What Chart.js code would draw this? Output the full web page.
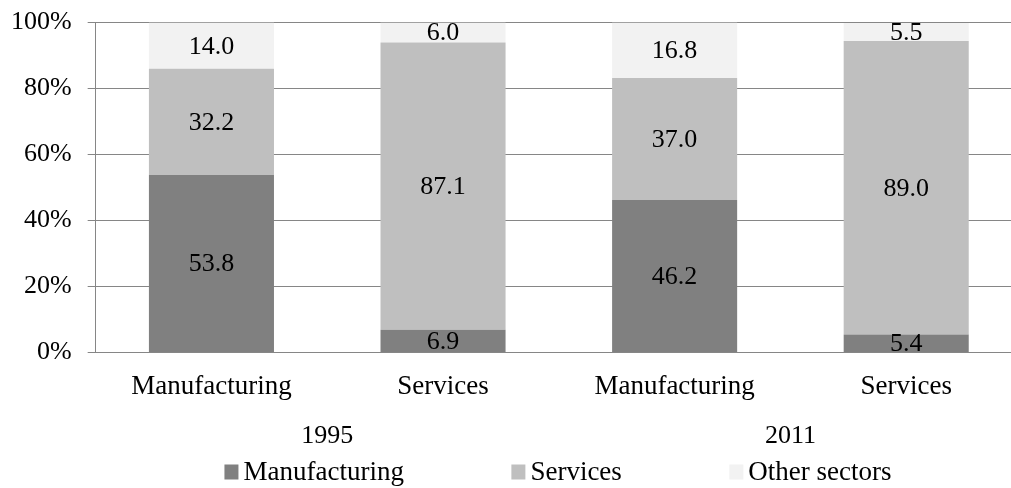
<!DOCTYPE html>
<html>
<head>
<meta charset="utf-8">
<script src="https://cdn.jsdelivr.net/npm/chart.js@4/dist/chart.umd.min.js"></script>
<style>
  html, body { margin: 0; padding: 0; overflow: hidden; background: #fff; }
  #wrap { width: 1022px; height: 497px; position: relative; margin-top: -9px; }
</style>
</head>
<body>
<div id="wrap"><canvas id="c"></canvas></div>
<script>
const categories = ['Manufacturing', 'Services', 'Manufacturing', 'Services'];
const years = ['1995', '2011'];
const manufacturing = [53.8, 6.9, 46.2, 5.4];
const services = [32.2, 87.1, 37.0, 89.0];
const otherSectors = [14.0, 6.0, 16.8, 5.5];
const yTicks = [0, 20, 40, 60, 80, 100];

const FONT = "'Liberation Serif', 'Times New Roman', serif";
const FS = 26;
const FX = 27;
const GRID = '#868686';

const valueLabels = {
  id: 'valueLabels',
  afterDatasetsDraw(chart) {
    const ctx = chart.ctx;
    ctx.save();
    ctx.font = FS + 'px ' + FONT;
    ctx.fillStyle = '#000';
    ctx.textAlign = 'center';
    ctx.textBaseline = 'middle';
    chart.data.datasets.forEach((ds, i) => {
      const meta = chart.getDatasetMeta(i);
      meta.data.forEach((bar, j) => {
        const yc = (bar.y + bar.base) / 2;
        ctx.fillText(ds.data[j].toFixed(1), bar.x, yc + 1);
      });
    });
    ctx.restore();
  }
};

const customLegend = {
  id: 'customLegend',
  afterDraw(chart) {
    const ctx = chart.ctx;
    ctx.save();
    ctx.font = FX + 'px ' + FONT;
    ctx.textBaseline = 'middle';
    ctx.textAlign = 'left';
    const bw = 14, bh = 15, textOff = 19, spacing = 107.5;
    const items = chart.data.datasets.map(ds => ({ text: ds.label, color: ds.backgroundColor }));
    const widths = items.map(it => textOff + ctx.measureText(it.text).width);
    const total = widths.reduce((a, b) => a + b, 0) + spacing * (items.length - 1);
    let x = 558 - total / 2;
    const y = 481;
    items.forEach((it, k) => {
      ctx.fillStyle = it.color;
      ctx.fillRect(x, y - bh / 2, bw, bh);
      ctx.fillStyle = '#000';
      ctx.fillText(it.text, x + textOff, y + 1);
      x += widths[k] + spacing;
    });
    ctx.restore();
  }
};

new Chart(document.getElementById('c'), {
  type: 'bar',
  data: {
    labels: categories,
    datasets: [
      { label: 'Manufacturing', data: manufacturing, backgroundColor: '#808080' },
      { label: 'Services', data: services, backgroundColor: '#bfbfbf' },
      { label: 'Other sectors', data: otherSectors, backgroundColor: '#f2f2f2' }
    ]
  },
  options: {
    responsive: true,
    maintainAspectRatio: false,
    animation: false,
    layout: { padding: { left: -5, right: 0, top: 0, bottom: 36 } },
    datasets: { bar: { categoryPercentage: 0.54, barPercentage: 1.0, borderWidth: 0 } },
    plugins: { legend: { display: false }, tooltip: { enabled: false } },
    scales: {
      x: {
        stacked: true,
        grid: { display: false },
        border: { display: false },
        ticks: { color: '#000', font: { family: FONT, size: FX }, padding: 10, maxRotation: 0 }
      },
      x2: {
        type: 'category',
        labels: years,
        position: 'bottom',
        offset: true,
        grid: { display: false },
        border: { display: false },
        ticks: { color: '#000', font: { family: FONT, size: FS }, padding: 0, maxRotation: 0 }
      },
      y: {
        stacked: true,
        min: 0,
        max: 100,
        afterBuildTicks(axis) { axis.ticks = yTicks.map(v => ({ value: v })); },
        grid: { color: GRID, lineWidth: 1, tickLength: 8 },
        border: { color: GRID, width: 1 },
        ticks: {
          color: '#000',
          font: { family: FONT, size: FS },
          padding: 16,
          callback: v => v + '%'
        }
      }
    }
  },
  plugins: [valueLabels, customLegend]
});
</script>
</body>
</html>
